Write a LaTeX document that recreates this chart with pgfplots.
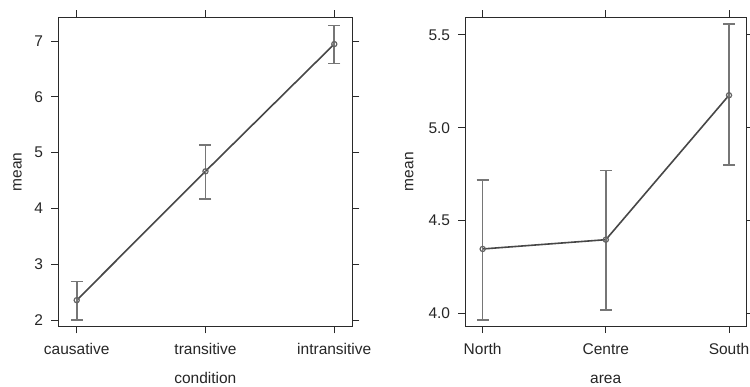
\documentclass[border=0pt]{standalone}
\usepackage{pgfplots}
\pgfplotsset{compat=1.18}
\usepackage{fontspec}
\setmainfont{Liberation Sans}
\definecolor{lineC}{HTML}{474747}
\definecolor{errC}{HTML}{767676}
\definecolor{axC}{HTML}{2A2A2A}
\pgfplotsset{
  latt/.style={
    scale only axis,
    anchor=south west,
    axis line style={axC, line width=0.9pt},
    tick style={axC, line width=0.9pt},
    tick align=outside,
    tick pos=both,
    major tick length=7pt,
    xtick={0,1,2},
    /pgf/number format/assume math mode=true,
    ticklabel style={font=\fontsize{15.5}{18}\selectfont, text=black!85},
    yticklabel style={anchor=east, inner sep=0pt, xshift=-8pt},
    xticklabel style={anchor=north, inner sep=0pt, yshift=-10pt},
    label style={font=\fontsize{15.5}{18}\selectfont, text=black!85},
    xlabel style={at={(axis description cs:0.5,0)}, anchor=base, yshift=-57pt},
  },
  ser/.style={
    color=lineC, line width=1.6pt,
    mark=o, mark size=2.6pt,
    mark options={draw=lineC!85, line width=1.2pt},
    error bars/.cd, y dir=both, y explicit,
    error bar style={color=errC, line width=1.6pt},
    error mark options={rotate=90, mark size=6pt, line width=1.6pt, color=errC},
  },
}
\pgfplotstableread{
x y ep em
0 2.355 0.335 0.355
1 4.665 0.475 0.495
2 6.945 0.335 0.345
}\condtab
\pgfplotstableread{
x y ep em
0 4.347 0.371 0.383
1 4.397 0.372 0.379
2 5.175 0.383 0.377
}\areatab
\begin{document}
\begin{tikzpicture}
\useasboundingbox (0pt,0pt) rectangle (750pt,386pt);
\begin{axis}[latt,
  at={(58.3pt,59.7pt)}, width=294pt, height=309pt,
  xmin=-0.143, xmax=2.14, ymin=1.887, ymax=7.425,
  ytick={2,3,4,5,6,7},
  xticklabels={causative,transitive,intransitive},
  xlabel={condition}, ylabel={mean},
  ylabel style={at={([xshift=-36.6pt]axis description cs:0,0.5)}, anchor=base},
]
\addplot[ser] table[x=x, y=y, y error plus=ep, y error minus=em] {\condtab};
\end{axis}
\begin{axis}[latt,
  at={(465.3pt,60pt)}, width=280.7pt, height=308.7pt,
  xmin=-0.141, xmax=2.138, ymin=3.932, ymax=5.595,
  ytick={4.0,4.5,5.0,5.5},
  yticklabels={4.0,4.5,5.0,5.5},
  xticklabels={North,Centre,South},
  xlabel={area}, ylabel={mean},
  ylabel style={at={([xshift=-52pt]axis description cs:0,0.5)}, anchor=base},
]
\addplot[ser] table[x=x, y=y, y error plus=ep, y error minus=em] {\areatab};
\end{axis}
\end{tikzpicture}
\end{document}
